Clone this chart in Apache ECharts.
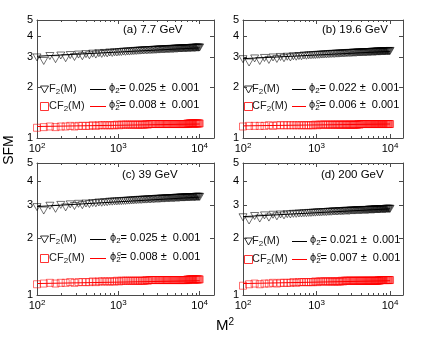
<!DOCTYPE html>
<html>
<head>
<meta charset="utf-8">
<script src="https://cdn.jsdelivr.net/npm/echarts@6.0.0/dist/echarts.min.js"></script>
<style>
html, body { margin: 0; padding: 0; background: #fff; }
#chart { width: 433px; height: 337px; }
</style>
</head>
<body>
<div id="chart"></div>
<script>
// M^2 bins, M = 10 ... 100
const m2 = [100, 121, 144, 169, 196, 225, 256, 289, 324, 361,
  400, 441, 484, 529, 576, 625, 676, 729, 784, 841,
  900, 961, 1024, 1089, 1156, 1225, 1296, 1369, 1444, 1521,
  1600, 1681, 1764, 1849, 1936, 2025, 2116, 2209, 2304, 2401,
  2500, 2601, 2704, 2809, 2916, 3025, 3136, 3249, 3364, 3481,
  3600, 3721, 3844, 3969, 4096, 4225, 4356, 4489, 4624, 4761,
  4900, 5041, 5184, 5329, 5476, 5625, 5776, 5929, 6084, 6241,
  6400, 6561, 6724, 6889, 7056, 7225, 7396, 7569, 7744, 7921,
  8100, 8281, 8464, 8649, 8836, 9025, 9216, 9409, 9604, 9801,
  10000]

// (a) 7.7 GeV
const f2A = [3.00, 2.86, 3.06, 2.93, 3.08, 2.97, 3.10, 3.02, 3.12, 3.05,
  3.14, 3.09, 3.16, 3.12, 3.18, 3.15, 3.19, 3.17, 3.21, 3.19,
  3.22, 3.21, 3.23, 3.23, 3.25, 3.24, 3.26, 3.25, 3.27, 3.27,
  3.28, 3.28, 3.29, 3.29, 3.30, 3.30, 3.31, 3.31, 3.31, 3.32,
  3.32, 3.32, 3.33, 3.33, 3.33, 3.34, 3.34, 3.34, 3.35, 3.35,
  3.35, 3.35, 3.36, 3.36, 3.36, 3.36, 3.37, 3.37, 3.37, 3.37,
  3.38, 3.38, 3.38, 3.38, 3.39, 3.39, 3.39, 3.39, 3.39, 3.40,
  3.40, 3.40, 3.40, 3.40, 3.41, 3.41, 3.41, 3.41, 3.41, 3.42,
  3.42, 3.42, 3.42, 3.42, 3.42, 3.43, 3.43, 3.43, 3.43, 3.43,
  3.44]
const cf2A = [1.15, 1.16, 1.17, 1.16, 1.17, 1.17, 1.18, 1.17, 1.18, 1.18,
  1.18, 1.18, 1.19, 1.18, 1.19, 1.19, 1.19, 1.19, 1.19, 1.19,
  1.19, 1.20, 1.19, 1.20, 1.20, 1.20, 1.20, 1.20, 1.20, 1.20,
  1.20, 1.20, 1.20, 1.20, 1.20, 1.20, 1.20, 1.21, 1.20, 1.21,
  1.21, 1.21, 1.21, 1.21, 1.21, 1.21, 1.21, 1.21, 1.21, 1.21,
  1.21, 1.21, 1.21, 1.21, 1.21, 1.21, 1.21, 1.21, 1.21, 1.21,
  1.21, 1.21, 1.21, 1.21, 1.21, 1.21, 1.21, 1.21, 1.21, 1.21,
  1.21, 1.21, 1.21, 1.21, 1.22, 1.21, 1.22, 1.22, 1.22, 1.22,
  1.22, 1.22, 1.22, 1.22, 1.22, 1.22, 1.22, 1.22, 1.22, 1.22,
  1.22]
const fitF2A = [3.05, 3.42]
const fitCF2A = [1.17, 1.21]

// (b) 19.6 GeV
const f2B = [2.93, 2.80, 2.96, 2.86, 2.98, 2.90, 3.00, 2.94, 3.02, 2.97,
  3.03, 3.00, 3.05, 3.03, 3.06, 3.05, 3.08, 3.07, 3.09, 3.09,
  3.10, 3.10, 3.11, 3.11, 3.12, 3.12, 3.13, 3.13, 3.14, 3.14,
  3.15, 3.15, 3.15, 3.16, 3.16, 3.16, 3.17, 3.17, 3.17, 3.18,
  3.18, 3.18, 3.19, 3.19, 3.19, 3.19, 3.20, 3.20, 3.20, 3.20,
  3.21, 3.21, 3.21, 3.21, 3.21, 3.22, 3.22, 3.22, 3.22, 3.22,
  3.23, 3.23, 3.23, 3.23, 3.23, 3.24, 3.24, 3.24, 3.24, 3.24,
  3.24, 3.25, 3.25, 3.25, 3.25, 3.25, 3.25, 3.26, 3.26, 3.26,
  3.26, 3.26, 3.26, 3.26, 3.27, 3.27, 3.27, 3.27, 3.27, 3.27,
  3.28]
const cf2B = [1.17, 1.18, 1.18, 1.18, 1.18, 1.19, 1.18, 1.19, 1.19, 1.19,
  1.19, 1.19, 1.19, 1.19, 1.19, 1.19, 1.19, 1.19, 1.19, 1.19,
  1.19, 1.20, 1.19, 1.20, 1.20, 1.20, 1.20, 1.20, 1.20, 1.20,
  1.20, 1.20, 1.20, 1.20, 1.20, 1.20, 1.20, 1.20, 1.20, 1.20,
  1.20, 1.20, 1.20, 1.20, 1.20, 1.20, 1.20, 1.20, 1.20, 1.20,
  1.20, 1.21, 1.20, 1.21, 1.21, 1.21, 1.21, 1.21, 1.21, 1.21,
  1.21, 1.21, 1.21, 1.21, 1.21, 1.21, 1.21, 1.21, 1.21, 1.21,
  1.21, 1.21, 1.21, 1.21, 1.21, 1.21, 1.21, 1.21, 1.21, 1.21,
  1.21, 1.21, 1.21, 1.21, 1.21, 1.21, 1.21, 1.21, 1.21, 1.21,
  1.21]
const fitF2B = [2.95, 3.26]
const fitCF2B = [1.18, 1.21]

// (c) 39 GeV
const f2C = [2.92, 2.80, 2.97, 2.86, 3.00, 2.91, 3.02, 2.96, 3.04, 2.99,
  3.05, 3.03, 3.07, 3.06, 3.09, 3.08, 3.10, 3.10, 3.12, 3.12,
  3.13, 3.13, 3.14, 3.14, 3.15, 3.15, 3.16, 3.16, 3.17, 3.17,
  3.18, 3.18, 3.19, 3.19, 3.19, 3.20, 3.20, 3.20, 3.21, 3.21,
  3.21, 3.22, 3.22, 3.22, 3.23, 3.23, 3.23, 3.23, 3.24, 3.24,
  3.24, 3.24, 3.25, 3.25, 3.25, 3.25, 3.26, 3.26, 3.26, 3.26,
  3.26, 3.27, 3.27, 3.27, 3.27, 3.27, 3.28, 3.28, 3.28, 3.28,
  3.28, 3.28, 3.29, 3.29, 3.29, 3.29, 3.29, 3.29, 3.30, 3.30,
  3.30, 3.30, 3.30, 3.30, 3.30, 3.31, 3.31, 3.31, 3.31, 3.31,
  3.31]
const cf2C = [1.14, 1.15, 1.16, 1.15, 1.16, 1.16, 1.17, 1.16, 1.17, 1.17,
  1.17, 1.17, 1.18, 1.17, 1.18, 1.18, 1.18, 1.18, 1.18, 1.18,
  1.18, 1.19, 1.18, 1.19, 1.19, 1.19, 1.19, 1.19, 1.19, 1.19,
  1.19, 1.19, 1.19, 1.19, 1.19, 1.19, 1.19, 1.20, 1.19, 1.20,
  1.20, 1.20, 1.20, 1.20, 1.20, 1.20, 1.20, 1.20, 1.20, 1.20,
  1.20, 1.20, 1.20, 1.20, 1.20, 1.20, 1.20, 1.20, 1.20, 1.20,
  1.20, 1.20, 1.20, 1.20, 1.20, 1.20, 1.20, 1.20, 1.20, 1.20,
  1.20, 1.20, 1.20, 1.20, 1.21, 1.20, 1.21, 1.21, 1.21, 1.21,
  1.21, 1.21, 1.21, 1.21, 1.21, 1.21, 1.21, 1.21, 1.21, 1.21,
  1.21]
const fitF2C = [2.94, 3.30]
const fitCF2C = [1.15, 1.19]

// (d) 200 GeV
const f2D = [2.58, 2.48, 2.62, 2.54, 2.64, 2.57, 2.66, 2.61, 2.67, 2.64,
  2.68, 2.67, 2.69, 2.69, 2.70, 2.70, 2.71, 2.71, 2.72, 2.72,
  2.73, 2.73, 2.74, 2.74, 2.74, 2.75, 2.75, 2.75, 2.76, 2.76,
  2.76, 2.77, 2.77, 2.77, 2.77, 2.78, 2.78, 2.78, 2.78, 2.79,
  2.79, 2.79, 2.79, 2.79, 2.80, 2.80, 2.80, 2.80, 2.80, 2.81,
  2.81, 2.81, 2.81, 2.81, 2.81, 2.82, 2.82, 2.82, 2.82, 2.82,
  2.82, 2.82, 2.83, 2.83, 2.83, 2.83, 2.83, 2.83, 2.83, 2.84,
  2.84, 2.84, 2.84, 2.84, 2.84, 2.84, 2.85, 2.85, 2.85, 2.85,
  2.85, 2.85, 2.85, 2.85, 2.86, 2.86, 2.86, 2.86, 2.86, 2.86,
  2.86]
const cf2D = [1.12, 1.14, 1.15, 1.14, 1.15, 1.15, 1.16, 1.15, 1.16, 1.16,
  1.16, 1.16, 1.17, 1.16, 1.17, 1.17, 1.17, 1.17, 1.17, 1.17,
  1.17, 1.18, 1.17, 1.18, 1.18, 1.18, 1.18, 1.18, 1.18, 1.18,
  1.18, 1.18, 1.18, 1.18, 1.18, 1.18, 1.18, 1.19, 1.18, 1.19,
  1.19, 1.19, 1.19, 1.19, 1.19, 1.19, 1.19, 1.19, 1.19, 1.19,
  1.19, 1.19, 1.19, 1.19, 1.19, 1.19, 1.19, 1.19, 1.19, 1.19,
  1.19, 1.19, 1.19, 1.19, 1.19, 1.19, 1.19, 1.19, 1.19, 1.19,
  1.19, 1.19, 1.19, 1.19, 1.20, 1.19, 1.20, 1.20, 1.20, 1.20,
  1.20, 1.20, 1.20, 1.20, 1.20, 1.20, 1.20, 1.20, 1.20, 1.20,
  1.20]
const fitF2D = [2.60, 2.86]
const fitCF2D = [1.15, 1.19]

const fitX = [100, 10000]
const xMajor = [100, 1000, 10000]
const xMinor = [200, 300, 400, 500, 600, 700, 800, 900, 2000, 3000, 4000, 5000, 6000, 7000, 8000, 9000]
const yTicks = [1, 2, 3, 4, 5]
const titles = ['(a) 7.7 GeV', '(b) 19.6 GeV', '(c) 39 GeV', '(d) 200 GeV']
const phiF2 = ['0.025', '0.022', '0.025', '0.021']
const phiCF2 = ['0.008', '0.006', '0.008', '0.007']
const phiErr = ['0.001', '0.001', '0.001', '0.001']

const panels = [
  { f2: f2A, cf2: cf2A, fitF2: fitF2A, fitCF2: fitCF2A },
  { f2: f2B, cf2: cf2B, fitF2: fitF2B, fitCF2: fitCF2B },
  { f2: f2C, cf2: cf2C, fitF2: fitF2C, fitCF2: fitCF2C },
  { f2: f2D, cf2: cf2D, fitF2: fitF2D, fitCF2: fitCF2D }
]

const FONT = 'Liberation Sans'
const frameColor = '#4a4a4a'

const grids = [
  { left: 37, top: 20, width: 177, height: 118 },
  { left: 243, top: 20, width: 160, height: 118 },
  { left: 37, top: 163, width: 177, height: 132 },
  { left: 243, top: 163, width: 160, height: 132 }
]

// legend / title placement inside each panel (pixels)
const legendPos = [
  { tri: 44.5, txt: 49, l0: 90, l1: 106, phi: 109, r1: 89.5, r2: 106.5, tx: 123, ty: 30 },
  { tri: 248.5, txt: 252, l0: 292, l1: 306, phi: 309, r1: 89.5, r2: 106.5, tx: 322, ty: 30 },
  { tri: 44.5, txt: 49, l0: 90, l1: 106, phi: 110, r1: 239.5, r2: 258.5, tx: 122, ty: 175 },
  { tri: 248.5, txt: 252, l0: 292, l1: 307, phi: 310, r1: 241.5, r2: 259.5, tx: 321, ty: 175 }
]

const xAxes = []
const yAxes = []
const series = []
const graphics = []

grids.forEach((g, i) => {
  const xBase = {
    type: 'log', logBase: 10, min: 100, max: 15000, gridIndex: i,
    splitLine: { show: false },
    axisLine: { show: true, onZero: false, lineStyle: { color: frameColor, width: 1 } }
  }
  const majorTick = { show: true, inside: true, length: 4, customValues: xMajor, lineStyle: { color: frameColor } }
  const minorTick = { show: true, inside: true, length: 2, customValues: xMinor, lineStyle: { color: frameColor } }
  xAxes.push(Object.assign({}, xBase, {
    position: 'bottom',
    axisTick: majorTick,
    axisLabel: {
      customValues: xMajor,
      margin: 4,
      formatter: v => '{b|10}{s|' + Math.round(Math.log10(v)) + '}',
      rich: {
        b: { fontFamily: FONT, fontSize: 11, color: '#000', lineHeight: 12, verticalAlign: 'bottom' },
        s: { fontFamily: FONT, fontSize: 8, color: '#000', lineHeight: 8, verticalAlign: 'top', padding: [0, 0, 5, 0] }
      }
    }
  }))
  xAxes.push(Object.assign({}, xBase, { position: 'top', axisTick: majorTick, axisLabel: { show: false } }))
  xAxes.push(Object.assign({}, xBase, { position: 'bottom', axisLine: { show: false }, axisTick: minorTick, axisLabel: { show: false } }))
  xAxes.push(Object.assign({}, xBase, { position: 'top', axisLine: { show: false }, axisTick: minorTick, axisLabel: { show: false } }))

  const yBase = {
    type: 'log', logBase: 10, min: 1, max: 5, gridIndex: i,
    splitLine: { show: false },
    axisLine: { show: true, onZero: false, lineStyle: { color: frameColor, width: 1 } },
    axisTick: { show: true, inside: true, length: 4, customValues: yTicks, lineStyle: { color: frameColor } }
  }
  yAxes.push(Object.assign({}, yBase, {
    position: 'left',
    axisLabel: { customValues: yTicks, margin: 4, fontFamily: FONT, fontSize: 11, color: '#000', formatter: v => String(v) }
  }))
  yAxes.push(Object.assign({}, yBase, { position: 'right', axisLabel: { show: false } }))

  const p = panels[i]
  const xi = i * 4
  const yi = i * 2
  series.push({
    type: 'scatter', xAxisIndex: xi, yAxisIndex: yi,
    symbol: 'triangle', symbolRotate: 180, symbolSize: [8, 7],
    itemStyle: { color: 'rgba(0,0,0,0)', borderColor: '#000', borderWidth: 0.7 },
    data: m2.map((x, k) => [x, p.f2[k]])
  })
  series.push({
    type: 'scatter', xAxisIndex: xi, yAxisIndex: yi,
    symbol: 'rect', symbolSize: 7,
    itemStyle: { color: 'rgba(0,0,0,0)', borderColor: '#ff0000', borderWidth: 0.7 },
    data: m2.map((x, k) => [x, p.cf2[k]])
  })
  series.push({
    type: 'line', xAxisIndex: xi, yAxisIndex: yi, showSymbol: false,
    lineStyle: { color: '#000', width: 1 },
    data: fitX.map((x, k) => [x, p.fitF2[k]])
  })
  series.push({
    type: 'line', xAxisIndex: xi, yAxisIndex: yi, showSymbol: false,
    lineStyle: { color: '#ff0000', width: 1 },
    data: fitX.map((x, k) => [x, p.fitCF2[k]])
  })

  // panel title and legend
  const L = legendPos[i]
  const richSmall = {
    t: { fontFamily: FONT, fontSize: 11, fill: '#222', lineHeight: 13, verticalAlign: 'top' },
    s: { fontFamily: FONT, fontSize: 8, fill: '#222', lineHeight: 8, verticalAlign: 'bottom', padding: [5, 0, 0, 0] }
  }
  const richPhi = {
    t: { fontFamily: FONT, fontSize: 11, fill: '#000', lineHeight: 13, verticalAlign: 'top' },
    s: { fontFamily: FONT, fontSize: 8, fill: '#000', lineHeight: 8, verticalAlign: 'bottom', padding: [5, 0, 0, 0] }
  }
  graphics.push(
    { type: 'text', x: L.tx, y: L.ty, style: { text: titles[i], font: '11.5px ' + FONT, fill: '#000', verticalAlign: 'middle' } },
    { type: 'polygon', shape: { points: [[L.tri - 4, L.r1 - 3.5], [L.tri + 4, L.r1 - 3.5], [L.tri, L.r1 + 3.5]] }, style: { fill: 'none', stroke: '#000', lineWidth: 0.8 } },
    { type: 'text', x: L.txt, y: L.r1, style: { text: '{t|F}{s|2}{t|(M)}', rich: richSmall, verticalAlign: 'middle' } },
    { type: 'line', shape: { x1: L.l0, y1: L.r1, x2: L.l1, y2: L.r1 }, style: { stroke: '#000', lineWidth: 1 } },
    { type: 'text', x: L.phi, y: L.r1 - 1, style: { text: '{t|ϕ}{s|2}{t|= ' + phiF2[i] + ' ±  ' + phiErr[i] + '}', rich: richPhi, verticalAlign: 'middle' } },
    { type: 'rect', shape: { x: L.tri - 4, y: L.r2 - 4, width: 8, height: 8 }, style: { fill: 'none', stroke: '#ff0000', lineWidth: 0.8 } },
    { type: 'text', x: L.txt, y: L.r2, style: { text: '{t|CF}{s|2}{t|(M)}', rich: richSmall, verticalAlign: 'middle' } },
    { type: 'line', shape: { x1: L.l0, y1: L.r2, x2: L.l1, y2: L.r2 }, style: { stroke: '#ff0000', lineWidth: 1 } },
    { type: 'text', x: L.phi, y: L.r2 - 1, style: { text: '{t|ϕ}{s|2}{t|= ' + phiCF2[i] + ' ±  ' + phiErr[i] + '}', rich: richPhi, verticalAlign: 'middle' } },
    { type: 'text', x: L.phi + 7, y: L.r2 - 5, style: { text: 'c', font: '8px ' + FONT, fill: '#000', verticalAlign: 'middle' } }
  )
})

graphics.push(
  { type: 'text', x: 9, y: 150, rotation: Math.PI / 2, style: { text: 'SFM', font: '14px ' + FONT, fill: '#000', align: 'center', verticalAlign: 'middle' } },
  {
    type: 'text', x: 216, y: 325,
    style: {
      text: '{m|M}{s|2}', verticalAlign: 'middle',
      rich: {
        m: { fontFamily: FONT, fontSize: 15, fill: '#000', lineHeight: 16, verticalAlign: 'bottom' },
        s: { fontFamily: FONT, fontSize: 10, fill: '#000', lineHeight: 10, verticalAlign: 'top', padding: [0, 0, 6, 0] }
      }
    }
  }
)

const chart = echarts.init(document.getElementById('chart'))
chart.setOption({
  animation: false,
  backgroundColor: '#fff',
  grid: grids,
  xAxis: xAxes,
  yAxis: yAxes,
  series: series,
  graphic: graphics
})
</script>
</body>
</html>
